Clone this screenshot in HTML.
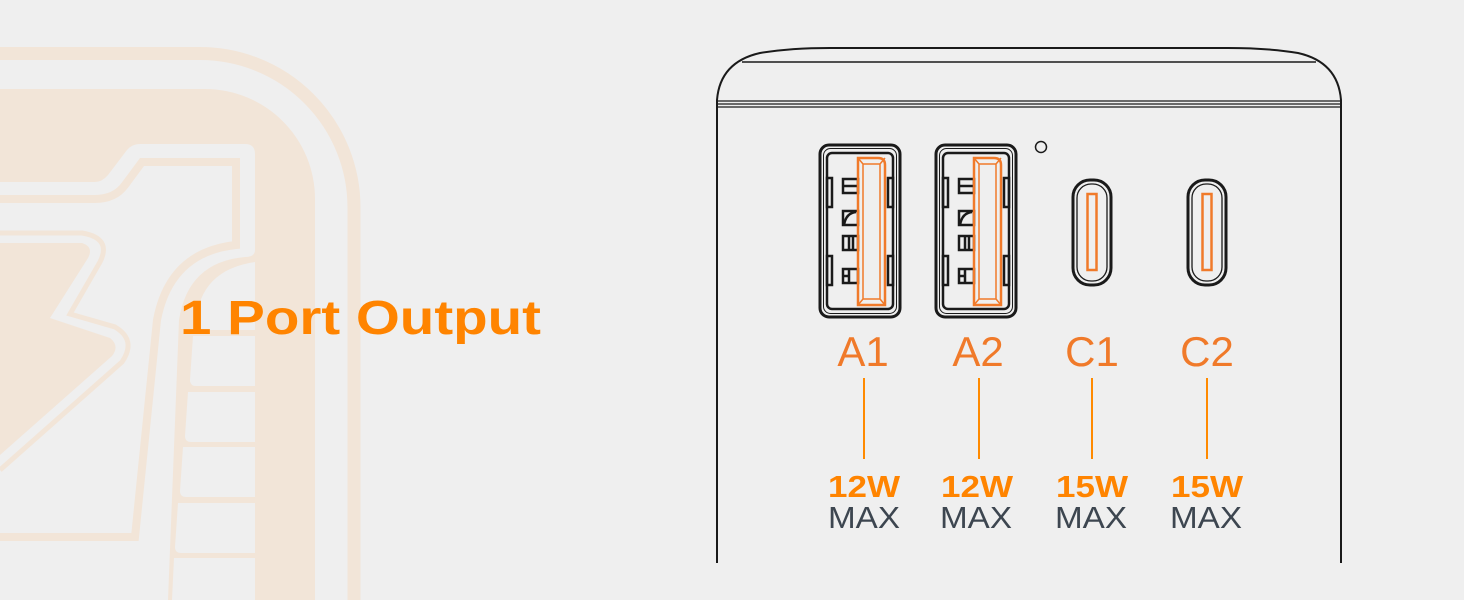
<!DOCTYPE html>
<html><head><meta charset="utf-8"><style>
html,body{margin:0;padding:0;background:#efefef;}
svg{display:block}
</style></head><body>
<svg width="1464" height="600" viewBox="0 0 1464 600" xmlns="http://www.w3.org/2000/svg">
<rect width="1464" height="600" fill="#efefef"/>
<g fill="#f2e5d8" stroke="none">
  <path d="M-20,53.5 H200 A154,154 0 0 1 354,207.5 V620" fill="none" stroke="#f2e5d8" stroke-width="13"/>
  <path d="M0,89 H205 A110,110 0 0 1 315,199 V600 H0 Z"/>
  <path fill="#efefef" d="M0,182 H95 Q102,182 108,175 L127,150 Q132,144 140,144 H245 Q255,144 255,154 V250 Q255,257 245,257 Q188,262 179,320 L168,600 H0 Z"/>
  <path fill="#efefef" d="M255,262 V330 H203 Q195,330 196,322 Q200,270 255,262 Z"/>
  <path fill="#efefef" d="M193,336 H255 V386 H196 Q190,386 190,380 Z"/>
  <path fill="#efefef" d="M188,392 H255 V442 H191 Q185,442 185,436 Z"/>
  <path fill="#efefef" d="M183,447 H255 V497 H186 Q180,497 180,491 Z"/>
  <path fill="#efefef" d="M178,503 H255 V553 H181 Q175,553 175,547 Z"/>
  <path fill="#efefef" d="M174,558 H255 V600 H172 Z"/>
  <path d="M0,199 H95 Q115,199 125,185 L142,162 H236 V245 Q170,252 157,320 L135,537 H0" fill="none" stroke="#f2e5d8" stroke-width="8"/>
  <path d="M0,243 H82 Q94,247 88,258 L50,318 L110,338 Q120,346 112,356 L0,455 Z"/>
  <path d="M0,233 H82 Q112,238 100,262 L70,314 L115,327 Q137,340 122,362 L0,470" fill="none" stroke="#f2e5d8" stroke-width="5"/>
</g>
<text x="180" y="334" font-family="Liberation Sans, sans-serif" font-weight="bold" font-size="48" fill="#ff8400" textLength="361" lengthAdjust="spacingAndGlyphs">1 Port Output</text>

<g fill="none" stroke="#1a1a1a" stroke-width="2">
  <path d="M717,563 V100 Q720,62 760,53 Q790,48 830,48 H1228 Q1268,48 1298,53 Q1338,62 1341,100 V563"/>
  <path d="M742,62 H1316" stroke-width="1.5"/>
  <path d="M718,101 H1340 M718,104 H1340 M718,107 H1340" stroke-width="1.3"/>
  <circle cx="1041" cy="147" r="5.5" stroke-width="1.5"/>
</g>
<defs>
<g id="usba">
  <rect x="0" y="0" width="80" height="172" rx="9" fill="none" stroke="#1a1a1a" stroke-width="3"/>
  <rect x="3.5" y="3.5" width="73" height="165" rx="7" fill="none" stroke="#1a1a1a" stroke-width="1"/>
  <rect x="7" y="8" width="66" height="156" rx="5" fill="none" stroke="#1a1a1a" stroke-width="2.5"/>
  <g fill="none" stroke="#1a1a1a" stroke-width="2.5">
    <rect x="7" y="33" width="5" height="29"/><rect x="7" y="111" width="5" height="29"/>
    <rect x="68" y="33" width="5" height="29"/><rect x="68" y="111" width="5" height="29"/>
    <rect x="23" y="34" width="15" height="14"/><path d="M23,41 H38"/>
    <rect x="23" y="66" width="15" height="14"/><path d="M24,80 Q26,68 36,67"/>
    <rect x="23" y="91" width="15" height="14"/><path d="M29,91 V105 M33,91 V105"/>
    <rect x="23" y="124" width="15" height="14"/><path d="M29,124 V138 M23,131 H29"/>
  </g>
  <path d="M38,13 H58 Q65,13 65,20 V160 H38 Z" fill="none" stroke="#f07a2a" stroke-width="2.5"/>
  <path d="M43,19 H60 V154 H43 Z M38,13 L43,19 M65,13 L60,19 M38,160 L43,154 M65,160 L60,154" fill="none" stroke="#f07a2a" stroke-width="1.5"/>
</g>
<g id="usbc">
  <rect x="0" y="0" width="38" height="105" rx="17" fill="none" stroke="#1a1a1a" stroke-width="3"/>
  <rect x="4" y="4" width="30" height="97" rx="14" fill="none" stroke="#1a1a1a" stroke-width="1.3"/>
  <rect x="14.5" y="14" width="9" height="76" fill="none" stroke="#f07a2a" stroke-width="2.5"/>
</g>
</defs>
<use href="#usba" x="820" y="145"/>
<use href="#usba" x="936" y="145"/>
<use href="#usbc" x="1073" y="180"/>
<use href="#usbc" x="1188" y="180"/>

<g font-family="Liberation Sans, sans-serif" text-anchor="middle">
  <g fill="#f07a2a" font-size="42">
    <text x="863" y="366">A1</text><text x="978" y="366">A2</text>
    <text x="1092" y="366">C1</text><text x="1207" y="366">C2</text>
  </g>
  <g stroke="#ff8a00" stroke-width="2">
    <path d="M864,378 V459 M979,378 V459 M1092,378 V459 M1207,378 V459"/>
  </g>
  <g fill="#ff8400" font-size="31" font-weight="bold">
    <text x="864" y="497" textLength="72" lengthAdjust="spacingAndGlyphs">12W</text>
    <text x="977" y="497" textLength="72" lengthAdjust="spacingAndGlyphs">12W</text>
    <text x="1092" y="497" textLength="72" lengthAdjust="spacingAndGlyphs">15W</text>
    <text x="1207" y="497" textLength="72" lengthAdjust="spacingAndGlyphs">15W</text>
  </g>
  <g fill="#3d4650" font-size="31">
    <text x="864" y="528" textLength="72" lengthAdjust="spacingAndGlyphs">MAX</text>
    <text x="976" y="528" textLength="72" lengthAdjust="spacingAndGlyphs">MAX</text>
    <text x="1091" y="528" textLength="72" lengthAdjust="spacingAndGlyphs">MAX</text>
    <text x="1206" y="528" textLength="72" lengthAdjust="spacingAndGlyphs">MAX</text>
  </g>
</g>
</svg>
</body></html>
